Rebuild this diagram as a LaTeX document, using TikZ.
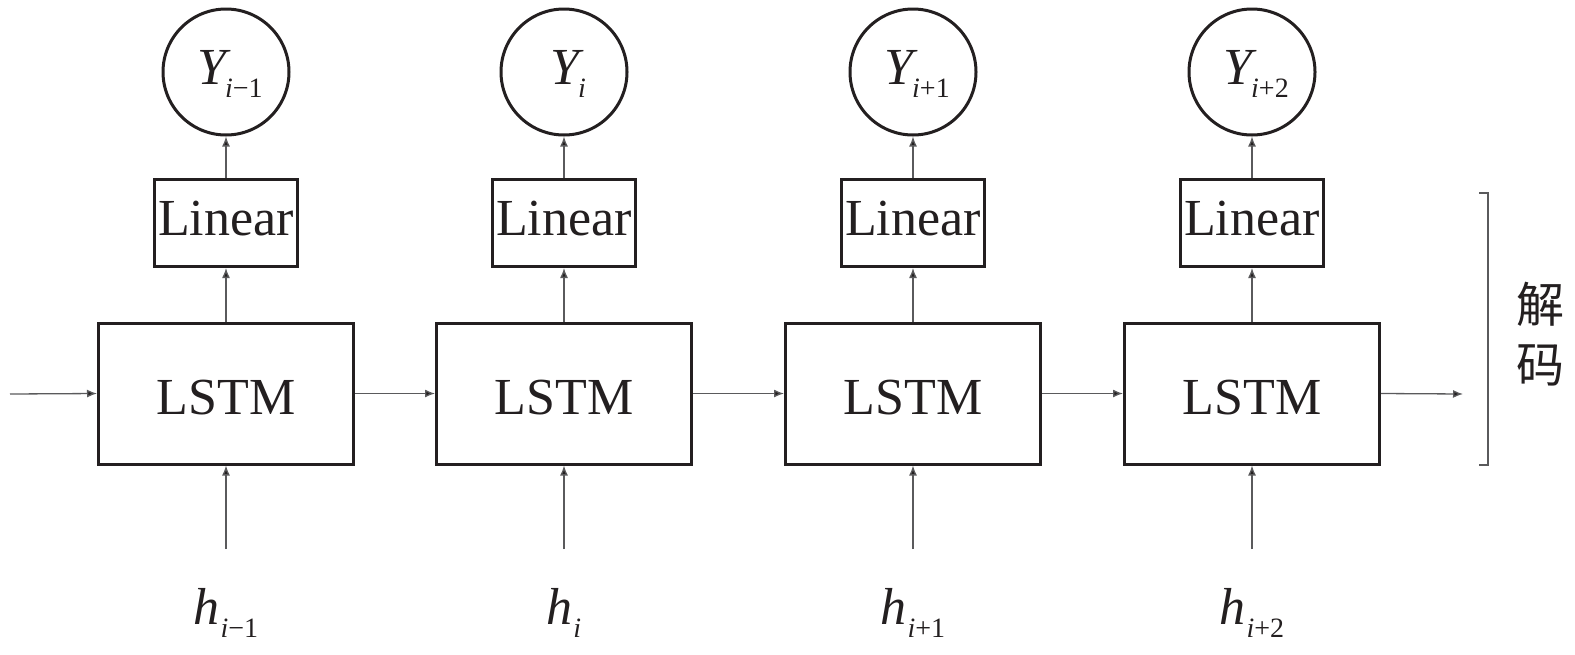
\documentclass[tikz,border=0pt]{standalone}
\usepackage{fontspec}
\setmainfont{Liberation Serif}
\newfontfamily\cjk{Noto Sans CJK SC}
\usetikzlibrary{arrows.meta}
\definecolor{ink}{HTML}{231F20}
\definecolor{wire}{HTML}{5A5A5C}
\newcommand\mylab[3]{{\itshape #1}\kern#3\raisebox{-6.5pt}{\fontsize{14}{14}\selectfont\textit{i}#2}}
\tikzset{
  lstmbox/.style={draw=ink, line width=1.5pt, minimum width=127.5pt, minimum height=70.5pt, inner sep=0pt, text=ink, font=\fontsize{26}{28}\selectfont, text height=20.5pt, text depth=0pt},
  linbox/.style={draw=ink, line width=1.5pt, minimum width=71.5pt, minimum height=43.5pt, inner sep=0pt, text=ink, font=\fontsize{26}{28}\selectfont, text height=17.2pt, text depth=4.3pt},
  outcirc/.style={draw=ink, line width=1.5pt, circle, minimum size=63pt, inner sep=0pt, text=ink, font=\fontsize{26}{28}\selectfont, text height=17.2pt, text depth=4.3pt},
  hlab/.style={text=ink, inner sep=0pt, font=\fontsize{26}{28}\selectfont},
  conn/.style={draw=wire, line width=0.65pt, -{Latex[length=5pt,width=4pt,fill=ink]}},
}
\begin{document}
\begin{tikzpicture}[x=0.5pt,y=-0.5pt]
\useasboundingbox (0,0) rectangle (1575,654);
% columns
\foreach \n/\cx/\s/\sy in {1/226/{−1}/{−1},2/564/{}/{},3/913/{+1}/{+1},4/1252/{+2}/{+2}}{
  \node[lstmbox] (L\n) at (\cx,393.5) {LSTM};
  \node[linbox] (F\n) at (\cx,223) {Linear};
  \node[outcirc] (Y\n) at (\cx,72) {\kern4pt\mylab{Y}{\s}{-0.5pt}};
  \node[hlab] (H\n) at (\cx,613) {\mylab{h}{\sy}{0.3pt}};
  \coordinate (S\n) at (\cx,549);
}
\foreach \n in {1,2,3,4}{
  \draw[conn] (S\n) -- (L\n.south);
  \draw[conn] (L\n.north) -- (F\n.south);
  \draw[conn] (F\n.north) -- (Y\n.south);
}
\coordinate (in) at (10,394);
\coordinate (out) at (1463,394);
\draw[conn] (in) -- (L1.west);
\draw[conn] (L1.east) -- (L2.west);
\draw[conn] (L2.east) -- (L3.west);
\draw[conn] (L3.east) -- (L4.west);
\draw[conn] (L4.east) -- (out);
% bracket
\coordinate (bt) at (1479,193);
\coordinate (bb) at (1479,465);
\draw[wire, line width=0.8pt] (bt) -- ++(9,0) |- (bb);
\node[text=ink, inner sep=0pt, font=\cjk\fontsize{24}{30}\selectfont, align=center] (dec) at (1540,334) {解\\码};
\end{tikzpicture}
\end{document}
